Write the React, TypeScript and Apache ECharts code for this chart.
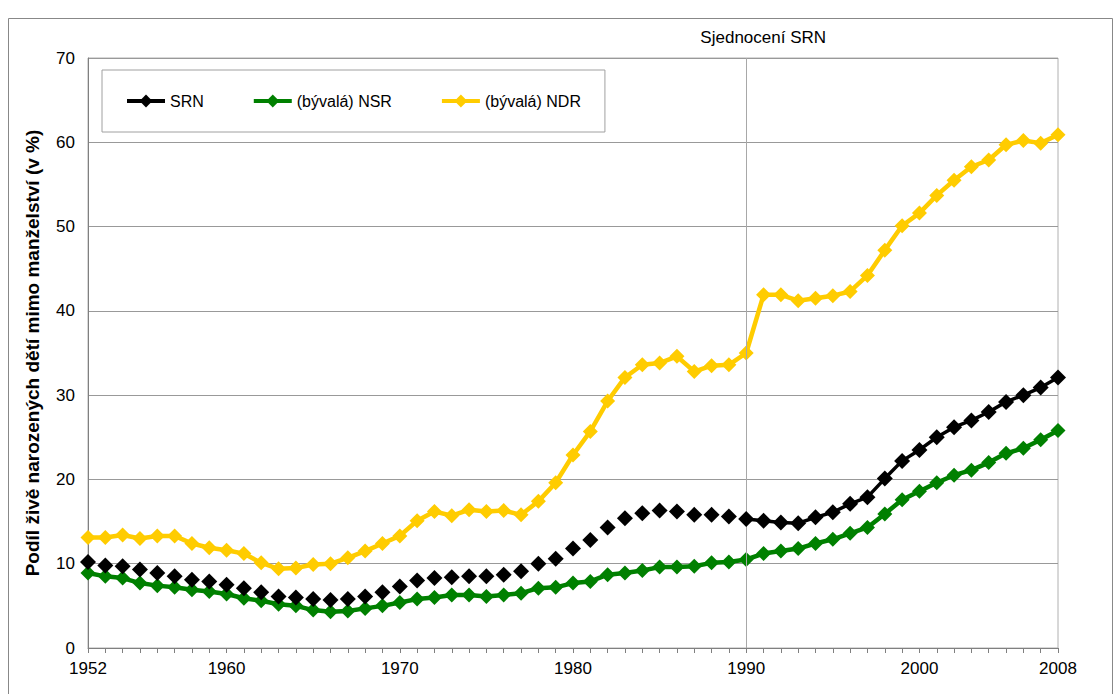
import React, { useEffect, useRef } from "react";
import * as echarts from "echarts";

const years: number[] = [
  1952, 1953, 1954, 1955, 1956, 1957, 1958, 1959, 1960, 1961, 1962, 1963, 1964, 1965, 1966,
  1967, 1968, 1969, 1970, 1971, 1972, 1973, 1974, 1975, 1976, 1977, 1978, 1979, 1980, 1981,
  1982, 1983, 1984, 1985, 1986, 1987, 1988, 1989, 1990, 1991, 1992, 1993, 1994, 1995, 1996,
  1997, 1998, 1999, 2000, 2001, 2002, 2003, 2004, 2005, 2006, 2007, 2008,
];

const srn: number[] = [
  10.2, 9.8, 9.7, 9.3, 8.9, 8.5, 8.1, 7.9, 7.5, 7.1, 6.6, 6.1, 6.0, 5.8, 5.7,
  5.8, 6.1, 6.6, 7.3, 8.0, 8.3, 8.4, 8.5, 8.5, 8.7, 9.1, 10.0, 10.6, 11.8, 12.8,
  14.3, 15.4, 16.0, 16.3, 16.2, 15.8, 15.8, 15.6, 15.3, 15.1, 14.9, 14.8, 15.5, 16.1, 17.1,
  17.9, 20.1, 22.2, 23.5, 25.0, 26.2, 27.0, 28.0, 29.2, 30.0, 30.9, 32.1,
];

const nsr: number[] = [
  8.9, 8.5, 8.3, 7.7, 7.4, 7.2, 6.9, 6.7, 6.4, 5.9, 5.6, 5.2, 5.0, 4.5, 4.3,
  4.4, 4.7, 5.0, 5.4, 5.8, 6.0, 6.3, 6.3, 6.1, 6.3, 6.5, 7.1, 7.2, 7.7, 7.9,
  8.7, 8.9, 9.2, 9.6, 9.6, 9.7, 10.1, 10.2, 10.5, 11.2, 11.5, 11.8, 12.4, 12.9, 13.6,
  14.3, 15.9, 17.6, 18.6, 19.6, 20.5, 21.1, 22.0, 23.1, 23.7, 24.7, 25.8,
];

const ndr: number[] = [
  13.1, 13.1, 13.4, 13.0, 13.3, 13.3, 12.4, 11.9, 11.6, 11.2, 10.1, 9.4, 9.5, 9.9, 10.0,
  10.7, 11.5, 12.4, 13.3, 15.1, 16.2, 15.7, 16.4, 16.2, 16.3, 15.8, 17.4, 19.6, 22.9, 25.7,
  29.3, 32.1, 33.6, 33.8, 34.6, 32.8, 33.5, 33.6, 35.0, 41.9, 41.9, 41.2, 41.5, 41.8, 42.3,
  44.2, 47.2, 50.1, 51.6, 53.7, 55.5, 57.1, 57.9, 59.7, 60.2, 59.9, 60.9,
];

const xLabelYears: number[] = [1952, 1960, 1970, 1980, 1990, 2000, 2008];
const yTicks: number[] = [0, 10, 20, 30, 40, 50, 60, 70];
const unificationYear = 1990;
const unificationLabel = "Sjednocení SRN";
const yTitle = "Podíl živě narozených dětí mimo manželství (v %)";
const names = ["SRN", "(bývalá) NSR", "(bývalá) NDR"];

const FONT = "'Liberation Sans', Arial, sans-serif";

export default function App() {
  const ref = useRef<HTMLDivElement>(null);

  useEffect(() => {
    if (!ref.current) return;
    const chart = echarts.init(ref.current, null, { renderer: "svg" });

    const pairs = (arr: number[]) => arr.map((v, i) => [years[i], v]);
    const splitIdx = years.indexOf(unificationYear);
    const srnPairs = pairs(srn);

    chart.setOption({
      animation: false,
      backgroundColor: "#ffffff",
      textStyle: { fontFamily: FONT },
      graphic: [
        {
          type: "rect",
          shape: { x: 8.5, y: 18.5, width: 1104, height: 720 },
          style: { fill: "none", stroke: "#888888", lineWidth: 1 },
          silent: true,
          z: -10,
        },
      ],
      grid: {
        left: 88,
        right: 59,
        top: 58,
        bottom: 46,
        show: true,
        borderColor: "#b0b0b0",
        borderWidth: 1,
      },
      legend: {
        data: names,
        left: 102,
        top: 70,
        orient: "horizontal",
        padding: [23, 24, 23, 23],
        itemGap: 48,
        itemWidth: 38,
        itemHeight: 16,
        borderColor: "#a0a0a0",
        borderWidth: 1,
        backgroundColor: "#ffffff",
        lineStyle: { width: 4 },
        textStyle: { fontSize: 16, color: "#000", fontFamily: FONT },
      },
      xAxis: {
        type: "value",
        min: 1952,
        max: 2008,
        interval: 1,
        axisLine: { show: true, lineStyle: { color: "#808080", width: 1 } },
        axisTick: { show: true, length: 5, lineStyle: { color: "#808080" } },
        splitLine: { show: false },
        axisLabel: {
          show: true,
          margin: 12,
          fontSize: 17,
          color: "#000",
          fontFamily: FONT,
          showMinLabel: true,
          showMaxLabel: true,
          formatter: (v: number) => (xLabelYears.indexOf(Math.round(v)) >= 0 ? String(Math.round(v)) : ""),
        },
      },
      yAxis: {
        type: "value",
        min: yTicks[0],
        max: yTicks[yTicks.length - 1],
        interval: 10,
        name: yTitle,
        nameLocation: "middle",
        nameGap: 46,
        nameTextStyle: { fontSize: 19, fontWeight: "bold", color: "#000", fontFamily: FONT },
        axisLine: { show: true, lineStyle: { color: "#808080", width: 1 } },
        axisTick: { show: false },
        splitLine: { show: true, lineStyle: { color: "#999999", width: 1 } },
        axisLabel: { margin: 13, fontSize: 17, color: "#000", fontFamily: FONT },
      },
      series: [
        {
          name: names[0],
          type: "line",
          data: srnPairs.slice(splitIdx),
          symbol: "diamond",
          symbolSize: 16,
          showSymbol: true,
          itemStyle: { color: "#000000" },
          lineStyle: { color: "#000000", width: 3.5 },
          z: 5,
        },
        {
          name: names[1],
          type: "line",
          data: pairs(nsr),
          symbol: "diamond",
          symbolSize: 15,
          itemStyle: { color: "#008000" },
          lineStyle: { color: "#008000", width: 4.5 },
          z: 3,
        },
        {
          name: names[2],
          type: "line",
          data: pairs(ndr),
          symbol: "diamond",
          symbolSize: 15,
          itemStyle: { color: "#FFCC00" },
          lineStyle: { color: "#FFCC00", width: 4.5 },
          z: 4,
          markLine: {
            silent: true,
            symbol: "none",
            animation: false,
            lineStyle: { color: "#a8a8a8", type: "solid", width: 1 },
            label: {
              show: true,
              position: "end",
              formatter: unificationLabel,
              color: "#000",
              fontSize: 17,
              fontFamily: FONT,
              distance: 12,
              offset: [17, 0],
            },
            data: [{ xAxis: unificationYear }],
          },
        },
        {
          name: names[0],
          type: "line",
          data: srnPairs.slice(0, splitIdx),
          symbol: "diamond",
          symbolSize: 16,
          itemStyle: { color: "#000000" },
          lineStyle: { width: 0, opacity: 0 },
          z: 5,
        },
      ],
    });

    return () => chart.dispose();
  }, []);

  return (
    <div
      ref={ref}
      style={{ position: "absolute", left: 0, top: 0, width: 1117, height: 694 }}
    />
  );
}
